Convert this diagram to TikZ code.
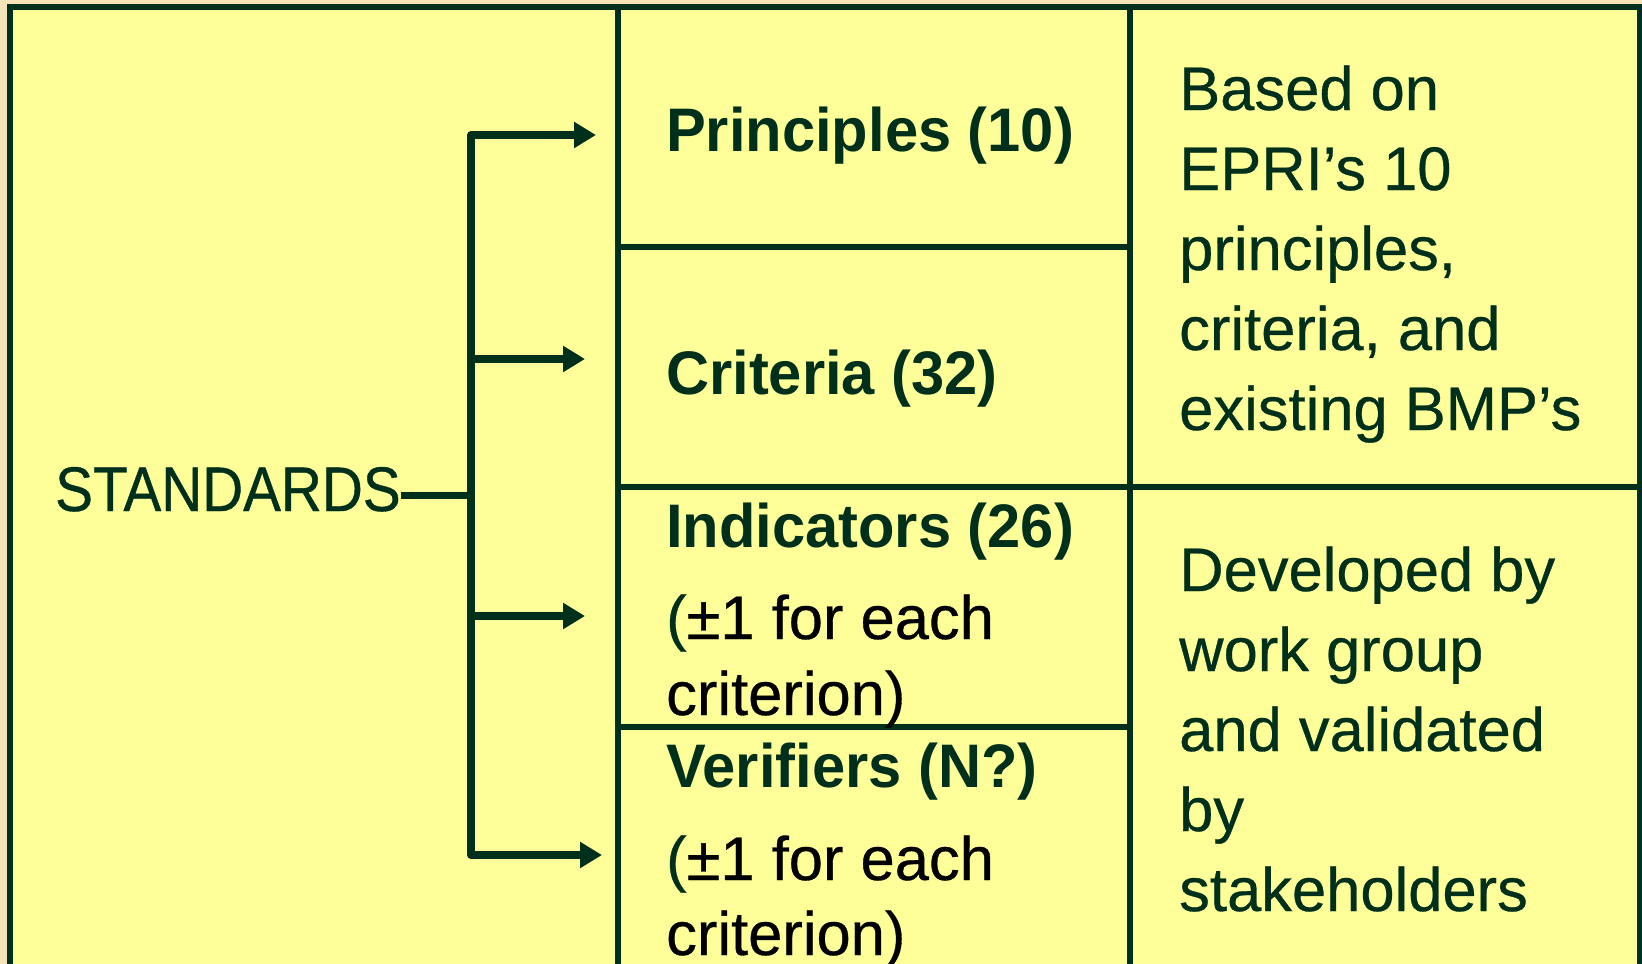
\documentclass[tikz,border=0pt]{standalone}
\usepackage{fontspec}
\setmainfont[FakeBold=0.5]{Liberation Sans}
\newfontfamily\capsfont[FakeStretch=0.9,FakeBold=0.6]{Liberation Sans}
\newfontfamily\headfont[FakeStretch=0.97]{Liberation Sans}
\usetikzlibrary{arrows.meta,calc}

\definecolor{ink}{RGB}{0,48,28}
\definecolor{pad}{RGB}{255,255,153}
\definecolor{parch}{RGB}{244,228,184}

\tikzset{
  rule/.style={draw=ink,line width=6.2pt},
  feed/.style={draw=ink,line width=8pt,line join=round,
               -{Triangle[length=22pt,width=25pt]}},
  lbl/.style={anchor=base west,inner sep=0pt,text=ink,
              font=\fontsize{61.5}{80}\selectfont},
  head/.style={lbl,font=\headfont\bfseries\fontsize{61.5}{80}\selectfont},
  note/.style={lbl,text=black},
}

\begin{document}
\begin{tikzpicture}[x=1pt,y=-1pt]
  % page and panel
  \fill[parch] (0,0) rectangle (1642,964);
  \useasboundingbox (0,0) rectangle (1642,964);
  \clip (0,0) rectangle (1642,964);
  \fill[pad] (10,7) rectangle (1640,1000);

  % table rules
  \draw[rule] (618,7) -- (618,1000);
  \draw[rule] (1130,7) -- (1130,1000);
  \draw[rule] (618,247) -- (1130,247);
  \draw[rule] (618,487) -- (1640,487);
  \draw[rule] (618,727) -- (1130,727);
  \draw[draw=ink,line width=6pt] (10,7) rectangle (1640,1000);

  % left label
  \node[lbl,font=\capsfont\fontsize{63}{63}\selectfont] (std) at (55,511) {STANDARDS};

  % middle column
  \node[head] (prin) at (666,151) {Principles (10)};
  \node[head] (crit) at (666,394) {Criteria (32)};
  \node[head] (ind)  at (666,547) {Indicators (26)};
  \node[note] (ind1) at (666,639) {{\color{ink}(}±1 for each};
  \node[note] (ind2) at (666,715) {criterion)};
  \node[head] (ver)  at (666,787) {Verifiers (N?)};
  \node[note] (ver1) at (666,880) {{\color{ink}(}±1 for each};
  \node[note] (ver2) at (666,955) {criterion)};

  % right column
  \foreach \t [count=\i] in {Based on,EPRI’s 10,{principles,},{criteria, and},existing BMP’s}
    \node[lbl] (src\i) at (1179,30+80*\i) {\t};
  \foreach \t [count=\i] in {Developed by,work group,and validated,by,stakeholders}
    \node[lbl] (dev\i) at (1179,511+80*\i) {\t};

  % bracket with arrows
  \coordinate (hub)  at (471,495);
  \coordinate (tipP) at (596,135);
  \coordinate (tipC) at (585,359);
  \coordinate (tipI) at (585,616);
  \coordinate (tipV) at (602,855);
  \draw[draw=ink,line width=7pt] (std.east |- hub) -- (hub);
  \draw[feed] (hub) |- (tipP);
  \draw[feed] (hub) |- (tipV);
  \draw[feed] (hub |- tipC) -- (tipC);
  \draw[feed] (hub |- tipI) -- (tipI);
\end{tikzpicture}
\end{document}
